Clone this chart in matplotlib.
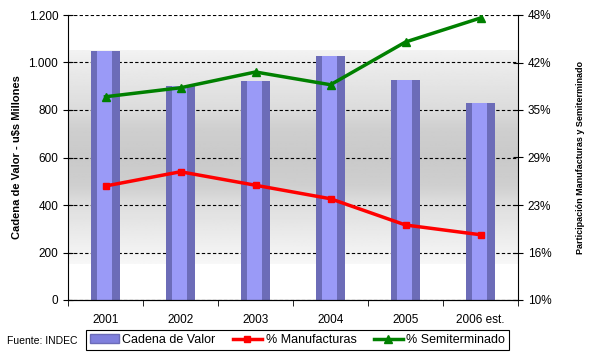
import numpy as np
import matplotlib.pyplot as plt
from matplotlib.patches import Patch
from matplotlib.lines import Line2D
from matplotlib.ticker import FuncFormatter, FixedLocator

plt.rcParams['font.family'] = ['Liberation Sans', 'DejaVu Sans']

# Data
years = ['2001', '2002', '2003', '2004', '2005', '2006 est.']
cadena = [1048, 901, 922, 1027, 926, 829]           # u$s millones
manufacturas = [25.2, 27.1, 25.3, 23.5, 20.0, 18.7]  # %
semiterminado = [37.1, 38.3, 40.4, 38.7, 44.4, 47.6]  # %

x = np.arange(len(years))

fig = plt.figure(figsize=(6.02, 3.6), dpi=100)
ax = fig.add_axes([68 / 602, 60 / 360, 450 / 602, 285 / 360])

# grey gradient band behind the bars
grad_y = np.linspace(0, 1, 200)
grad = np.interp(grad_y, [0, 0.11, 0.28, 0.37, 0.5, 0.63, 0.72, 0.89, 1.0],
                 [0.97, 0.93, 0.87, 0.81, 0.79, 0.81, 0.86, 0.91, 0.95])
ax.imshow(grad[:, None], extent=[-0.5, 5.5, 150, 1050], origin='lower',
          aspect='auto', cmap='gray', vmin=0, vmax=1, zorder=0)

# cylinder-ish bars: dark body with a lighter stripe
bw = 0.39
ax.bar(x, cadena, width=bw, color='#6c6cb8', zorder=2)
ax.bar(x - bw * 0.04, cadena, width=bw * 0.5, color='#9a9af7', zorder=2)

ax.set_xlim(-0.5, 5.5)
ax.set_ylim(0, 1200)
ax.set_yticks(range(0, 1201, 200))
ax.yaxis.set_major_formatter(FuncFormatter(lambda v, p: f'{int(v):,}'.replace(',', '.')))
ax.set_axisbelow(True)
ax.grid(axis='y', color='black', linestyle=(0, (3, 2)), linewidth=0.8)

ax.set_xticks(x)
ax.set_xticklabels(years)
ax.tick_params(axis='x', which='major', length=0, pad=10, labelsize=8.5)
ax.xaxis.set_minor_locator(FixedLocator(np.arange(-0.5, 6, 1)))
ax.tick_params(axis='x', which='minor', length=4, direction='out')
ax.tick_params(axis='y', direction='inout', length=7, labelsize=8.5)
ax.set_ylabel('Cadena de Valor - u$s Millones', fontsize=8, fontweight='bold', labelpad=5)

ax.spines['top'].set_visible(False)
ax.spines['right'].set_visible(False)

ax2 = ax.twinx()
ax2.plot(x, manufacturas, color='#ff0000', linewidth=2.5, marker='s', markersize=4, zorder=3)
ax2.plot(x, semiterminado, color='#008000', linewidth=2.5, marker='^', markersize=6, zorder=3)
ax2.set_ylim(10, 48)
ax2.set_yticks(np.linspace(10, 48, 7))
ax2.yaxis.set_major_formatter(FuncFormatter(lambda v, p: f'{round(v):.0f}%'))
ax2.tick_params(axis='y', direction='inout', length=7, labelsize=8.5)
ax2.set_ylabel('Participación Manufacturas y Semiterminado', fontsize=6.5,
               fontweight='bold', labelpad=18)
ax2.spines['top'].set_visible(False)
ax2.spines['left'].set_visible(False)

handles = [Patch(facecolor='#8080dd', edgecolor='#6c6cb8'),
           Line2D([], [], color='#ff0000', linewidth=2.5, marker='s', markersize=4),
           Line2D([], [], color='#008000', linewidth=2.5, marker='^', markersize=6)]
labels = ['Cadena de Valor', '% Manufacturas', '% Semiterminado']
leg = fig.legend(handles, labels, loc='center', ncol=3,
                 bbox_to_anchor=(297.5 / 602, 1 - 340 / 360),
                 fancybox=False, edgecolor='black', framealpha=1,
                 fontsize=9, columnspacing=1.4, handlelength=2.3,
                 handletextpad=0.3, borderpad=0.3, borderaxespad=0)
leg.get_frame().set_linewidth(0.8)

fig.text(7 / 602, 1 - 341 / 360, 'Fuente: INDEC', fontsize=7.5, va='center')

fig.savefig('out.png', dpi=100)
